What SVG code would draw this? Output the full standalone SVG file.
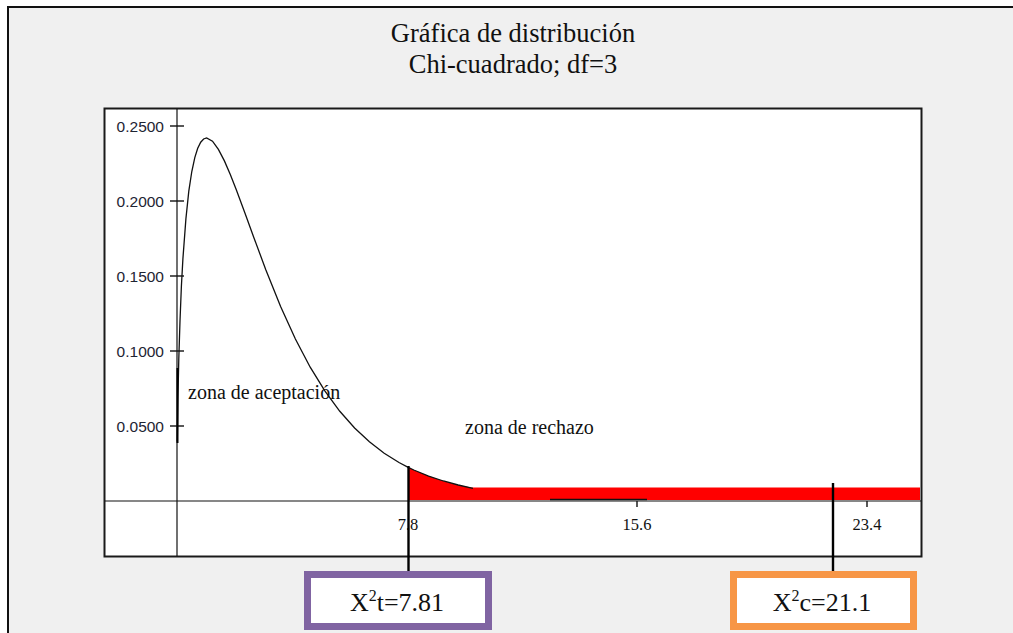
<svg xmlns="http://www.w3.org/2000/svg" width="1013" height="633" viewBox="0 0 1013 633">
<style>
.serif{font-family:"Liberation Serif","Times New Roman",serif;fill:#111}
.ylab{font-family:"Liberation Sans",Arial,sans-serif;font-size:15.5px;fill:#1e2433;text-anchor:end}
.xlab{font-size:16.5px;text-anchor:middle}
.tick{stroke:#111;stroke-width:1.4;fill:none}
.axis{stroke:#111;stroke-width:1.2;fill:none}
.lead{stroke:#000;stroke-width:2.4;fill:none}
.box{fill:#fff;stroke-width:7}
</style>
<rect x="0" y="0" width="1013" height="633" fill="#fff"/>
<rect id="frame" x="8" y="7" width="1012" height="632" fill="#f0f0f0" stroke="#111" stroke-width="2"/>
<g id="title" class="serif" font-size="26.5" text-anchor="middle">
<text x="513" y="42">Gráfica de distribución</text>
<text x="513" y="73">Chi-cuadrado; df=3</text>
</g>
<g id="plot">
<rect x="104.5" y="108.5" width="817" height="448" fill="#fff" stroke="#1a1a1a" stroke-width="2"/>
<line class="axis" x1="177" y1="109" x2="177" y2="556"/>
<line class="axis" x1="105" y1="501" x2="921" y2="501"/>
<g id="yticks">
<line class="tick" x1="170" y1="126" x2="184" y2="126"/>
<line class="tick" x1="170" y1="201" x2="184" y2="201"/>
<line class="tick" x1="170" y1="276" x2="184" y2="276"/>
<line class="tick" x1="170" y1="351" x2="184" y2="351"/>
<line class="tick" x1="170" y1="426" x2="184" y2="426"/>
<text class="ylab" x="164" y="132">0.2500</text>
<text class="ylab" x="164" y="207">0.2000</text>
<text class="ylab" x="164" y="282">0.1500</text>
<text class="ylab" x="164" y="357">0.1000</text>
<text class="ylab" x="164" y="432">0.0500</text>
</g>
<g id="xticks">
<line class="tick" x1="637" y1="501" x2="637" y2="507"/>
<line class="tick" x1="867" y1="501" x2="867" y2="507"/>
<text class="serif xlab" x="408" y="530">7.8</text>
<text class="serif xlab" x="637" y="530">15.6</text>
<text class="serif xlab" x="867" y="530">23.4</text>
</g>
<path id="rejection-area" fill="#ff0000" d="M408.2,467.3 L413.8,470 L428.6,476.1 L443.4,481 L458.2,485 L471,487.5 L920,487.5 L920,500 L408.2,500 Z"/>
<line x1="550" y1="499.5" x2="647" y2="499.5" stroke="#111" stroke-width="1.5"/>
<path id="curve" fill="none" stroke="#111" stroke-width="1.3" d="M177.3,441.5 L177.9,398.9 L178.8,358.7 L180,321 L181.4,286 L182.9,258.9 L185.9,218.9 L188.8,191.1 L191.8,171.5 L194.8,157.6 L197.7,148.2 L200.7,142.2 L203.6,139 L206.6,138 L212.5,141.2 L218.4,149.4 L224.4,160.9 L230.3,174.6 L236.2,189.6 L245.1,213.6 L254,238 L265.8,269.7 L280.6,306.5 L295.4,339 L310.2,367.2 L325,391.2 L339.8,411.3 L354.6,428 L369.4,441.8 L384.2,453.2 L399,462.5 L408.2,467.3 L413.8,470 L428.6,476.1 L443.4,481 L458.2,485 L473,488.3"/>
<line x1="177.5" y1="368" x2="177.5" y2="443" stroke="#000" stroke-width="2"/>
<text class="serif" x="188" y="399" font-size="20">zona de aceptación</text>
<text class="serif" x="465" y="434" font-size="20">zona de rechazo</text>
</g>
<g id="connectors">
<line class="lead" x1="408.5" y1="466" x2="408.5" y2="572"/>
<line class="lead" x1="833" y1="483" x2="833" y2="572"/>
</g>
<g id="node-x2t">
<rect class="box" x="307.5" y="574.5" width="181" height="52" stroke="#8064a2"/>
<text class="serif" x="397" y="611" font-size="26" text-anchor="middle">X<tspan font-size="16" dy="-10">2</tspan><tspan dy="10">t=7.81</tspan></text>
</g>
<g id="node-x2c">
<rect class="box" x="733.5" y="574.5" width="180" height="52" stroke="#f79646"/>
<text class="serif" x="822" y="611" font-size="26" text-anchor="middle">X<tspan font-size="16" dy="-10">2</tspan><tspan dy="10">c=21.1</tspan></text>
</g>
</svg>
